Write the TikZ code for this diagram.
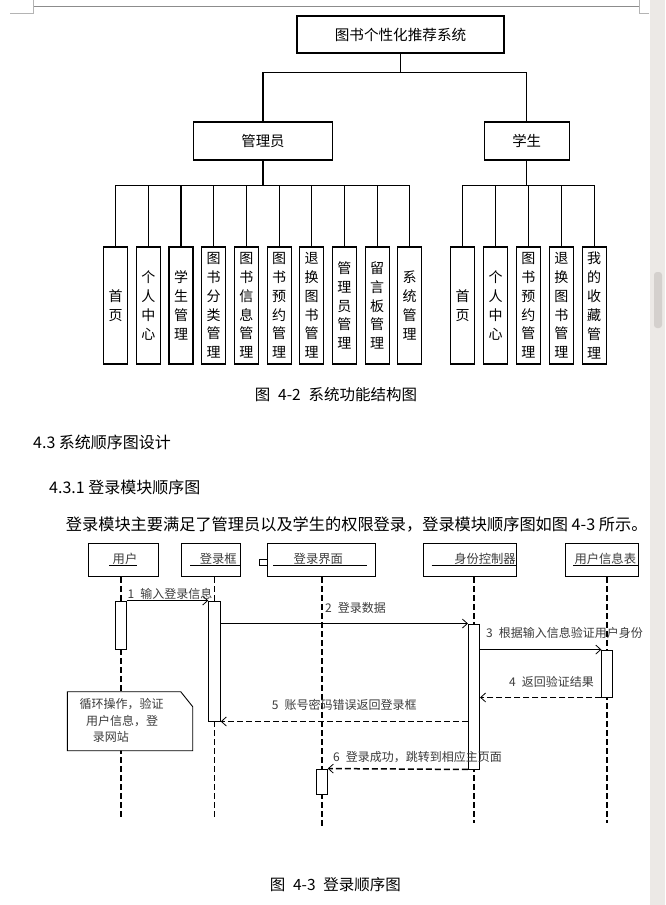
\documentclass[tikz,border=0pt]{standalone}
\usepackage{fontspec}
\usepackage{xcolor}
\usepackage{tikz}
\usetikzlibrary{arrows.meta}
\newfontfamily\cjk{Noto Sans CJK SC}
\definecolor{pagerule}{HTML}{8C8C8C}
\definecolor{pagecorner}{HTML}{B4B4B4}
\definecolor{scrolltrack}{HTML}{ECE9E6}
\definecolor{scrollthumb}{HTML}{D4D0CD}
\definecolor{seqtext}{HTML}{3C3C3C}

\begin{document}
\begin{tikzpicture}[
    x=1pt,
    y=-1pt,
    font=\cjk,
    treebox/.style={draw=black,line width=1.1pt,inner sep=0pt,fill=white},
    leafbox/.style={treebox,minimum width=24pt,minimum height=117pt,
      align=center,font=\cjk\fontsize{14}{18.8}\selectfont},
    headbox/.style={draw=black,line width=0.9pt,minimum height=33.4pt,inner sep=0pt},
    actbar/.style={draw=black,line width=0.9pt,fill=white,inner sep=0pt},
    lifeline/.style={line width=1.5pt,dash pattern=on 6pt off 3pt},
    callmsg/.style={line width=0.8pt,
      -{Straight Barb[length=5pt,width=9pt,line width=0.8pt]}},
    backmsg/.style={lifeline,
      -{Straight Barb[length=5pt,width=9pt,line width=0.8pt]}},
    seqlabel/.style={text=seqtext,font=\cjk\fontsize{12}{14}\selectfont,inner sep=0pt},
    textline/.style={anchor=west,inner sep=0pt,font=\cjk\fontsize{16}{18}\selectfont}
  ]
    \useasboundingbox (0,0) rectangle (665,905);
    \fill[white] (0,0) rectangle (665,905);

    % Page edge of the word processor and its scroll bar.
    \draw[pagerule,line width=1pt] (33.3,6.7) -- (639.5,6.7);
    \draw[pagecorner,line width=0.8pt] (10,13.3) -- (33.3,13.3) -- (33.3,0);
    \draw[pagecorner,line width=0.8pt] (649,13.3) -- (639.5,13.3) -- (639.5,0);
    \fill[scrolltrack] (650,0) rectangle (665,905);
    \fill[scrollthumb,rounded corners=3pt] (654,272) rectangle (662,328);

    % Function structure tree.
    \node[treebox,minimum width=207pt,minimum height=37pt,
      font=\cjk\fontsize{14.6}{16}\selectfont] (sys) at (400.5,34.5) {图书个性化推荐系统};
    \node[treebox,minimum width=139pt,minimum height=38pt,
      font=\cjk\fontsize{14.4}{16}\selectfont] (adm) at (263,141) {管理员};
    \node[treebox,minimum width=85pt,minimum height=38pt,
      font=\cjk\fontsize{14.4}{16}\selectfont] (stu) at (526.7,141) {学生};
    \draw[line width=1.1pt] (sys.south) -- ++(0,19) -| (adm.north);
    \draw[line width=1.1pt] (sys.south) -- ++(0,19) -| (stu.north);

    \foreach \i/\txt in {0/{首\\页},1/{个\\人\\中\\心},2/{学\\生\\管\\理},
      3/{图\\书\\分\\类\\管\\理},4/{图\\书\\信\\息\\管\\理},5/{图\\书\\预\\约\\管\\理},
      6/{退\\换\\图\\书\\管\\理},7/{管\\理\\员\\管\\理},8/{留\\言\\板\\管\\理},
      9/{系\\统\\管\\理}}{%
      \node[leafbox] (adm\i) at ({115.7+32.67*\i},305.5) {\txt};
      \draw[line width=1.1pt] (adm.south) -- ++(0,25) -| (adm\i.north);
    }
    \foreach \i/\txt in {0/{首\\页},1/{个\\人\\中\\心},2/{图\\书\\预\\约\\管\\理},
      3/{退\\换\\图\\书\\管\\理},4/{我\\的\\收\\藏\\管\\理}}{%
      \node[leafbox] (stu\i) at ({462.7+32.85*\i},305.5) {\txt};
      \draw[line width=1.1pt] (stu.south) -- ++(0,25) -| (stu\i.north);
    }

    \node[font=\cjk\fontsize{15.5}{17}\selectfont] (capTree) at (336,395)
      {图\hspace{0.5em}4-2\hspace{0.5em}系统功能结构图};

    % Headings and body text.
    \node[textline] (secSeq) at (33,442) {4.3 系统顺序图设计};
    \node[textline] (secLogin) at (49,487) {4.3.1 登录模块顺序图};
    \node[textline,font=\cjk\fontsize{16.2}{18}\selectfont] (bodyLogin) at (65.7,524.5)
      {登录模块主要满足了管理员以及学生的权限登录，登录模块顺序图如图 4-3 所示。};

    % Sequence diagram heads.
    \node[headbox,minimum width=70pt] (user) at (123.3,560) {};
    \node[headbox,minimum width=58.3pt] (lbox) at (210.85,560) {};
    \node[headbox,minimum width=107.3pt] (lui) at (321.35,560) {};
    \node[headbox,minimum width=93.4pt] (ctrl) at (470,560) {};
    \node[headbox,minimum width=73pt] (utab) at (601.8,560) {};
    \foreach \x/\txt/\n in {125/用户/userName,218.3/登录框/lboxName,318.3/登录界面/luiName,
      485/身份控制器/ctrlName,605.3/用户信息表/utabName}{%
      \node[seqlabel,font=\cjk\fontsize{12.3}{14}\selectfont] (\n) at (\x,558.8) {\txt};
    }
    \foreach \a/\b in {109.3/136.7,190/240,273/366.7,431.7/516.7,573.3/638.3}{%
      \draw[line width=0.8pt] (\a,565.7) -- (\b,565.7);
    }
    \draw[line width=0.8pt] (259,559.3) rectangle (lui.west |- 0,565);

    % Lifelines.
    \coordinate (user-end) at (121,817);
    \coordinate (lbox-end) at (214.5,817);
    \coordinate (lui-end) at (322,827);
    \coordinate (ctrl-end) at (474,823);
    \coordinate (utab-end) at (607,823);
    \foreach \h in {user,lbox,lui,ctrl,utab}{%
      \draw[lifeline] (\h.south -| \h-end) -- (\h-end);
    }

    % Note on the user lifeline.
    \path[draw=black,line width=0.9pt,fill=white]
      (67.3,691.7) -- (180.7,691.7) -- (192.7,706.7) -- (192.7,750.7)
      -- (67.3,750.7) -- cycle;
    \foreach \k/\dx/\txt in {0/79.3/{循环操作，验证},1/86/{用户信息，登},2/92.7/{录网站}}{%
      \node[seqlabel,anchor=west] (note\k) at (\dx,{704+16.65*\k}) {\txt};
    }

    % Activation bars.
    \node[actbar,minimum width=11pt,minimum height=48pt] (ua) at (121,625) {};
    \node[actbar,minimum width=11.6pt,minimum height=120pt] (la) at (214.5,661) {};
    \node[actbar,minimum width=11.2pt,minimum height=145pt] (ca) at (474,696.5) {};
    \node[actbar,minimum width=10.4pt,minimum height=47pt] (ta) at (607,673.5) {};
    \node[actbar,minimum width=10.6pt,minimum height=25pt] (ia) at (322,781.5) {};

    % Messages.
    \draw[callmsg] (ua.north east) -- (la.north west);
    \draw[callmsg] (la.east |- ca.north) -- (ca.north west);
    \draw[callmsg] (ca.east |- ta.north) -- (ta.north west);
    \draw[backmsg] (ta.south west) -- (ca.east |- ta.south);
    \draw[backmsg] (ca.west |- la.south) -- (la.south east);
    \draw[backmsg] (ca.south west) -- (ia.north east);

    \node[seqlabel,anchor=west] (msg1) at (127.5,594) {1\enspace 输入登录信息};
    \node[seqlabel,anchor=west] (msg2) at (325,607.7) {2\enspace 登录数据};
    \node[seqlabel,anchor=west] (msg3) at (486,633.3) {3\enspace 根据输入信息验证用户身份};
    \node[seqlabel,anchor=west] (msg4) at (509,681.7) {4\enspace 返回验证结果};
    \node[seqlabel,anchor=west] (msg5) at (271.7,704.7) {5\enspace 账号密码错误返回登录框};
    \node[seqlabel,anchor=west] (msg6) at (333,757.3) {6\enspace 登录成功，跳转到相应主页面};

    \node[font=\cjk\fontsize{15.5}{17}\selectfont] (capSeq) at (335.4,885)
      {图\hspace{0.5em}4-3\hspace{0.5em}登录顺序图};
\end{tikzpicture}
\end{document}
